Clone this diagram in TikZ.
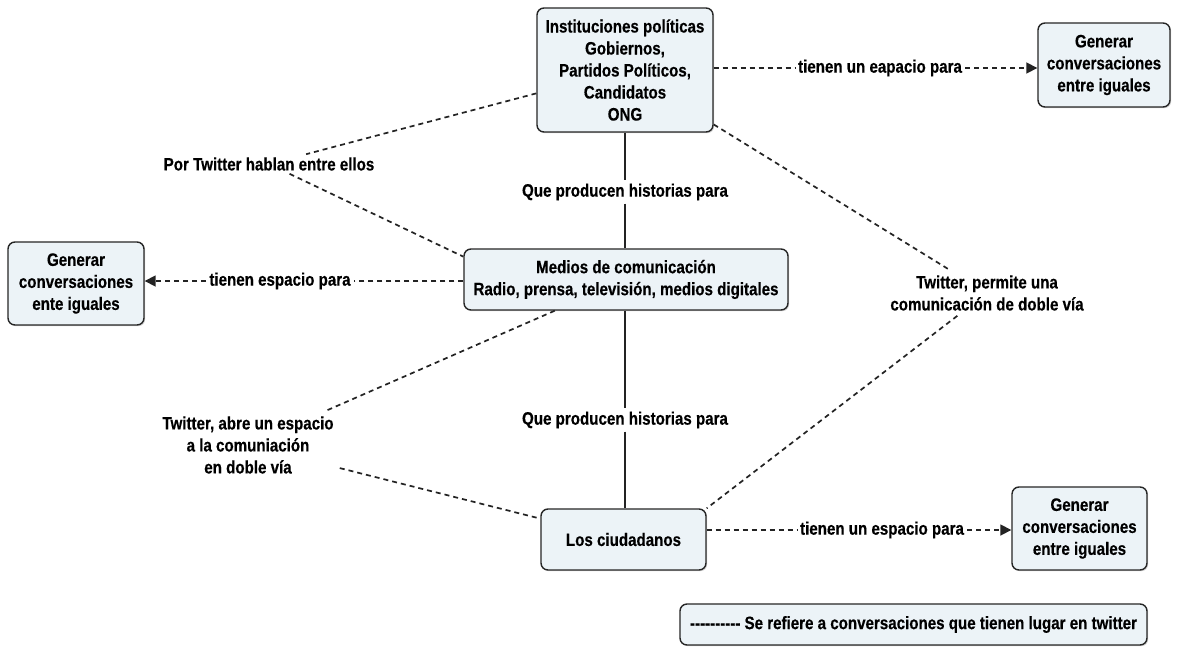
\documentclass[tikz,border=0pt]{standalone}
\usepackage{fontspec}
\setmainfont{Liberation Sans}[FakeStretch=0.84, BoldFeatures={FakeBold=0.4}]
\usetikzlibrary{arrows.meta,shadows}
\definecolor{boxfill}{RGB}{236,243,247}
\definecolor{linec}{RGB}{35,35,35}
\begin{document}
\begin{tikzpicture}[x=1pt,y=-1pt,
  font=\bfseries\fontsize{18}{22}\selectfont,
  box/.style={draw=black!85, line width=1.4pt, fill=boxfill, rounded corners=7pt,
    align=center, inner sep=0pt,
    drop shadow={shadow xshift=1.2pt, shadow yshift=-1.2pt, fill=black!35}},
  lbl/.style={align=center, inner sep=3pt},
  dline/.style={dash pattern=on 5pt off 4pt, line width=1.7pt, draw=linec},
  sline/.style={line width=1.6pt, draw=linec},
  tip/.style={-{Triangle[length=11pt,width=11pt]}}]
\fill[white] (0,0) rectangle (1181,651);
\useasboundingbox (0,0) rectangle (1181,651);

% boxes
\node[box, minimum width=176pt, minimum height=124pt] (inst) at (625,70)
  {Instituciones políticas\\Gobiernos,\\Partidos Políticos,\\Candidatos\\ONG};
\node[box, minimum width=132pt, minimum height=84pt] (gen1) at (1104,65)
  {Generar\\conversaciones\\entre iguales};
\node[box, minimum width=324pt, minimum height=61pt] (medios) at (626,279.5)
  {Medios de comunicación\\Radio, prensa, televisión, medios digitales};
\node[box, minimum width=136pt, minimum height=83pt] (gen2) at (76,283.5)
  {Generar\\conversaciones\\ente iguales};
\node[box, minimum width=165pt, minimum height=61pt] (ciud) at (623.5,539.5)
  {Los ciudadanos};
\node[box, minimum width=135pt, minimum height=83pt] (gen3) at (1079.5,528.5)
  {Generar\\conversaciones\\entre iguales};
\node[box, minimum width=467pt, minimum height=41pt] (legend) at (913.5,624.5)
  {-{}-{}-{}-{}-{}-{}-{}-{}-{}- Se refiere a conversaciones que tienen lugar en twitter};

% labels
\node[lbl] (l1) at (880,68) {tienen un eapacio para};
\node[lbl] (l2) at (280,281) {tienen espacio para};
\node[lbl] (l3) at (882,530) {tienen un espacio para};
\node[lbl] (q1) at (625,192) {Que producen historias para};
\node[lbl] (q2) at (625,420) {Que producen historias para};
\node[lbl] (p1) at (269,164) {Por Twitter hablan entre ellos};
\node[lbl, inner sep=6pt] (p2) at (248,445) {Twitter, abre un espacio\\a la comuniación\\en doble vía};
\node[lbl, inner sep=5pt] (p3) at (987,293) {Twitter, permite una\\comunicación de doble vía};

% horizontal dashed arrows
\draw[dline] (inst.east |- l1) -- (l1);
\draw[dline,tip] (l1) -- (gen1.west |- l1);
\draw[dline] (medios.west |- l2) -- (l2);
\draw[dline,tip] (l2) -- (gen2.east |- l2);
\draw[dline] (ciud.east |- l3) -- (l3);
\draw[dline,tip] (l3) -- (gen3.west |- l3);

% solid vertical lines
\draw[sline] (q1 |- inst.south) -- (q1);
\draw[sline] (q1) -- (q1 |- medios.north);
\draw[sline] (q2 |- medios.south) -- (q2);
\draw[sline] (q2) -- (q2 |- ciud.north);

% dashed diagonals
\draw[dline] (inst) -- (p1);
\draw[dline] (p1) -- (medios.172);
\draw[dline] (medios) -- (p2);
\draw[dline] (p2) -- (ciud);
\draw[dline] (inst) -- (p3);
\draw[dline] (p3) -- (ciud.north east);
\end{tikzpicture}
\end{document}
